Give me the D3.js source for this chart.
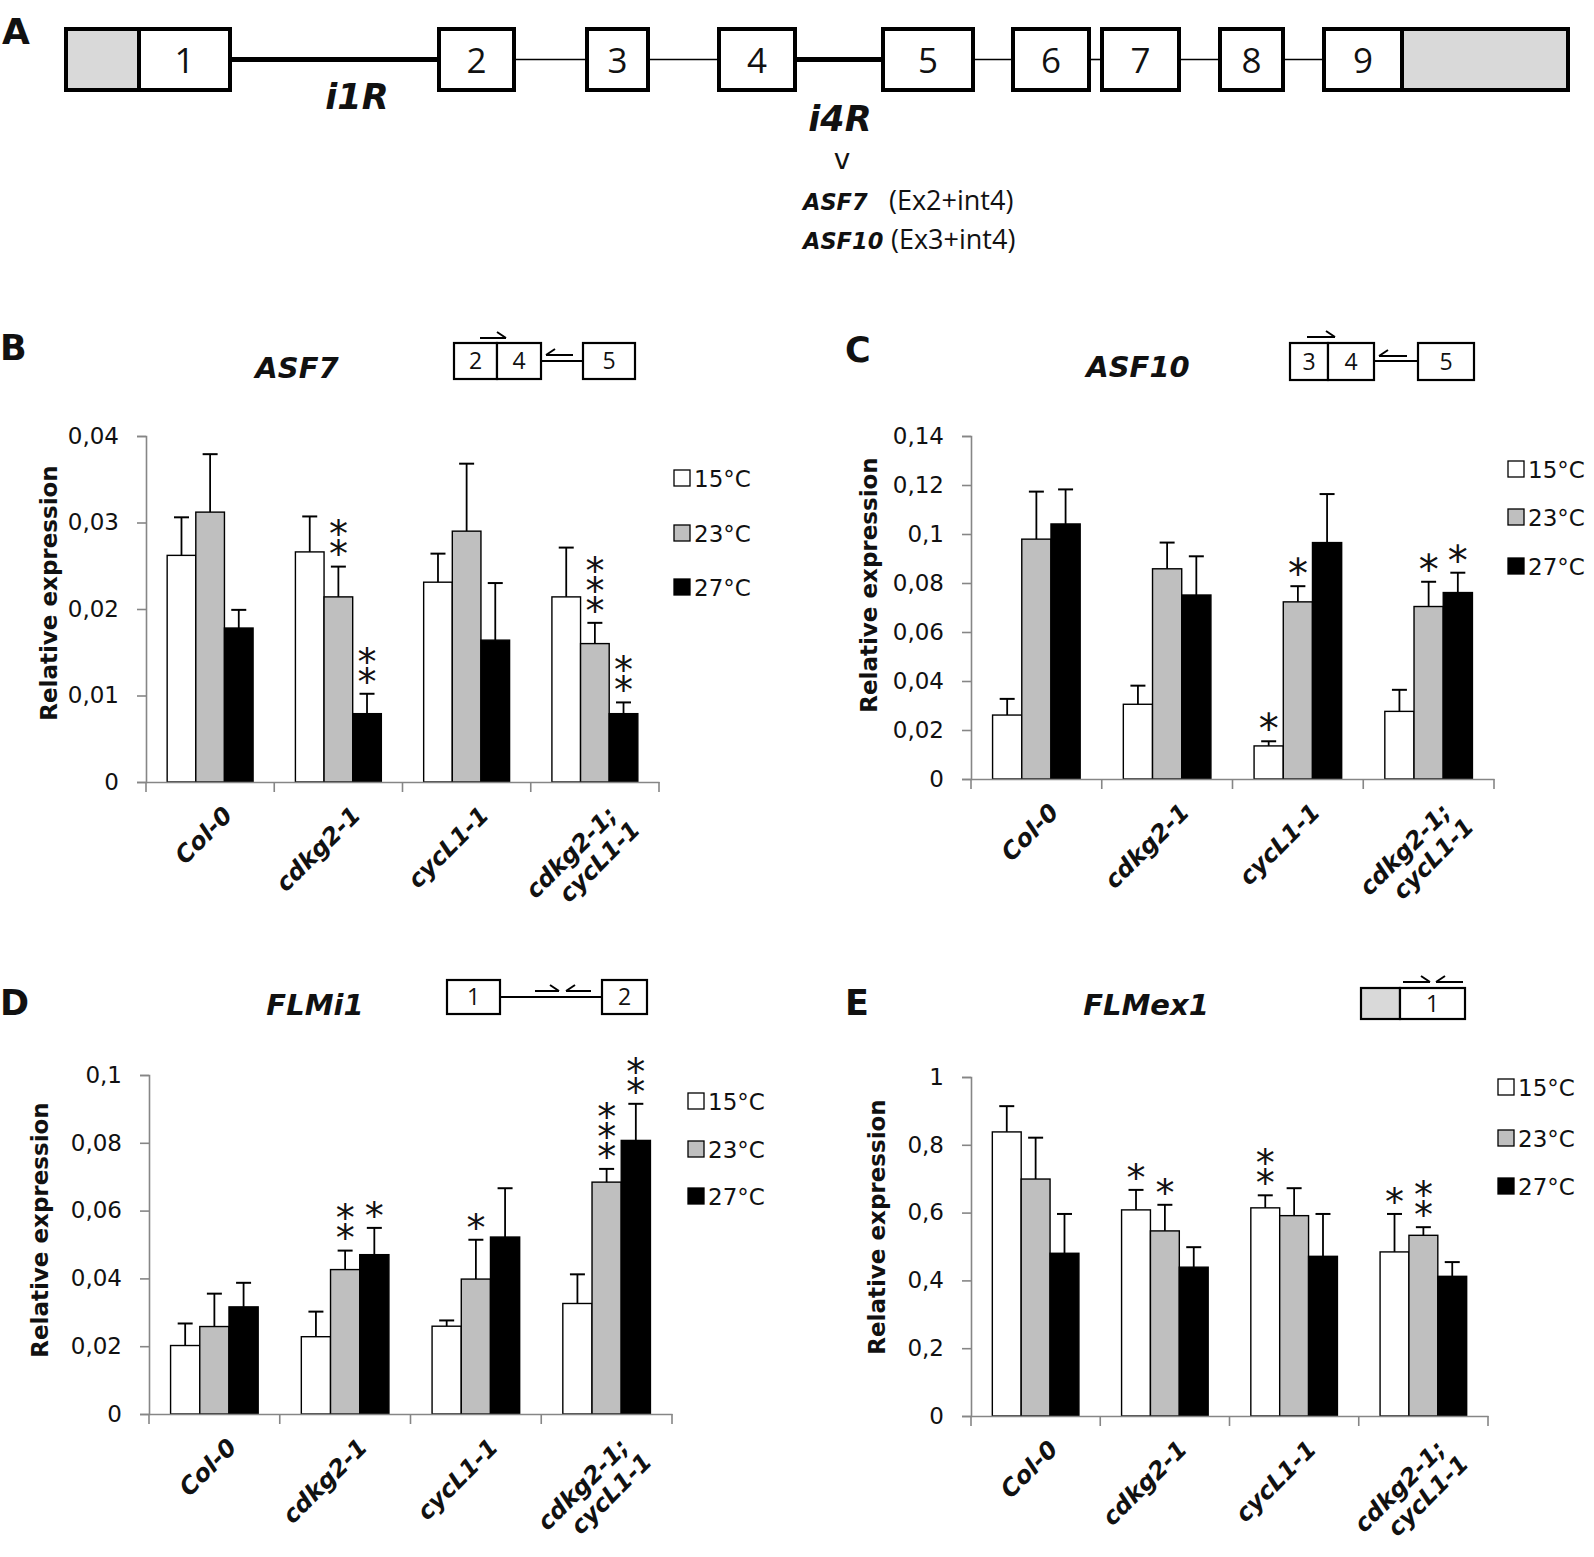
<!DOCTYPE html>
<html>
<head>
<meta charset="utf-8">
<script src="https://cdn.jsdelivr.net/npm/d3@7"></script>
<style>
  html, body { margin: 0; padding: 0; background: #fff; }
  svg { display: block; }
  text { font-family: "DejaVu Sans", sans-serif; fill: #111; }
</style>
</head>
<body>
<svg id="fig" width="1594" height="1557"></svg>
<script>
// ---------------- DATA ----------------
const genotypes = ["Col-0", "cdkg2-1", "cycL1-1", "cdkg2-1;|cycL1-1"];
const temperatures = ["15°C", "23°C", "27°C"];
const tempColors = ["#ffffff", "#bfbfbf", "#000000"];

// Panel B – ASF7
const asf7Mean = [[0.0262, 0.0312, 0.0178], [0.0266, 0.0214, 0.0079], [0.0231, 0.0290, 0.0164], [0.0214, 0.0160, 0.0079]];
const asf7Sd   = [[0.0044, 0.0067, 0.0021], [0.0041, 0.0035, 0.0023], [0.0033, 0.0078, 0.0066], [0.0057, 0.0024, 0.0013]];
const asf7Stars = [[0, 0, 0], [0, 2, 2], [0, 0, 0], [0, 3, 2]];
const asf7Ticks = [0, 0.01, 0.02, 0.03, 0.04];

// Panel C – ASF10
const asf10Mean = [[0.0261, 0.0979, 0.1041], [0.0305, 0.0858, 0.0751], [0.0135, 0.0723, 0.0965], [0.0276, 0.0704, 0.0761]];
const asf10Sd   = [[0.0066, 0.0194, 0.0141], [0.0076, 0.0107, 0.0158], [0.0019, 0.0064, 0.0198], [0.0088, 0.0101, 0.0081]];
const asf10Stars = [[0, 0, 0], [0, 0, 0], [1, 1, 0], [0, 1, 1]];
const asf10Ticks = [0, 0.02, 0.04, 0.06, 0.08, 0.1, 0.12, 0.14];

// Panel D – FLMi1
const flmi1Mean = [[0.0202, 0.0258, 0.0316], [0.0228, 0.0426, 0.0470], [0.0259, 0.0398, 0.0522], [0.0326, 0.0684, 0.0807]];
const flmi1Sd   = [[0.0065, 0.0097, 0.0071], [0.0074, 0.0056, 0.0079], [0.0017, 0.0116, 0.0144], [0.0086, 0.0039, 0.0108]];
const flmi1Stars = [[0, 0, 0], [0, 2, 1], [0, 1, 0], [0, 3, 2]];
const flmi1Ticks = [0, 0.02, 0.04, 0.06, 0.08, 0.1];

// Panel E – FLMex1
const flmex1Mean = [[0.838, 0.699, 0.480], [0.608, 0.546, 0.439], [0.614, 0.591, 0.471], [0.484, 0.533, 0.412]];
const flmex1Sd   = [[0.076, 0.122, 0.116], [0.059, 0.077, 0.059], [0.037, 0.081, 0.125], [0.112, 0.024, 0.042]];
const flmex1Stars = [[0, 0, 0], [1, 1, 0], [2, 0, 0], [1, 2, 0]];
const flmex1Ticks = [0, 0.2, 0.4, 0.6, 0.8, 1];

// Panel A – FLM gene model (schematic units)
const utr5 = [0, 73];
const exons = [[73, 164], [373, 448], [521, 582], [653, 729], [817, 907], [947, 1023], [1036, 1113], [1154, 1217], [1258, 1336]];
const utr3 = [1336, 1502];
const thickIntrons = [0, 3]; // i1R and i4R (retained introns)
const intronLabels = ["i1R", "i4R"];

// ---------------- DRAWING ----------------
const svg = d3.select("#fig");
const fmt = v => d3.format("~g")(v).replace(".", ",");
const BI = sel => sel.attr("font-weight", 700).attr("font-style", "italic");

// ---- Panel A ----
(function panelA() {
  const g = svg.append("g");
  const xs = d3.scaleLinear().domain([0, 1502]).range([66, 1568]);
  const y0 = 29, y1 = 90, ym = (y0 + y1) / 2;
  g.append("text").attr("x", 2).attr("y", 44).attr("font-size", 36).attr("font-weight", 700).text("A");
  for (let i = 0; i < exons.length - 1; i++) {
    g.append("line").attr("x1", xs(exons[i][1])).attr("x2", xs(exons[i + 1][0]))
      .attr("y1", ym).attr("y2", ym).attr("stroke", "#000")
      .attr("stroke-width", thickIntrons.includes(i) ? 5 : 1.6);
  }
  [utr5, utr3].forEach(u => g.append("rect").attr("x", xs(u[0])).attr("y", y0)
    .attr("width", xs(u[1]) - xs(u[0])).attr("height", y1 - y0)
    .attr("fill", "#d9d9d9").attr("stroke", "#000").attr("stroke-width", 4));
  exons.forEach((e, i) => {
    g.append("rect").attr("x", xs(e[0])).attr("y", y0).attr("width", xs(e[1]) - xs(e[0]))
      .attr("height", y1 - y0).attr("fill", "#fff").attr("stroke", "#000").attr("stroke-width", 4);
    g.append("text").attr("x", (xs(e[0]) + xs(e[1])) / 2).attr("y", ym + 13)
      .attr("text-anchor", "middle").attr("font-size", 35)
      .style("font-family", "'Open Sans', sans-serif").text(i + 1);
  });
  const labPos = [[357, 109], [840, 131]];
  intronLabels.forEach((l, k) => {
    BI(g.append("text").attr("x", labPos[k][0]).attr("y", labPos[k][1])
      .attr("text-anchor", "middle").attr("font-size", 35)).text(l);
  });
  g.append("text").attr("x", 842).attr("y", 169).attr("text-anchor", "middle").attr("font-size", 28).text("v");
  const rows = [["ASF7", "(Ex2+int4)", 210, 889], ["ASF10", "(Ex3+int4)", 249, 891]];
  rows.forEach(r => {
    BI(g.append("text").attr("x", 803).attr("y", r[2]).attr("font-size", 22.5)).text(r[0]);
    g.append("text").attr("x", r[3]).attr("y", r[2])
      .style("font-family", "'Open Sans', sans-serif").attr("font-size", 27).text(r[1]);
  });
})();

// ---- helpers: mini primer diagrams ----
function harpoon(g, x1, x2, y, dir) {
  const tip = dir > 0 ? x2 : x1;
  g.append("path").attr("d", `M${x1},${y}L${x2},${y}M${tip},${y}L${tip - dir * 9},${y - 6}`)
    .attr("stroke", "#000").attr("stroke-width", 2).attr("fill", "none");
}
function box(g, x, y, w, h, label, fill) {
  g.append("rect").attr("x", x).attr("y", y).attr("width", w).attr("height", h)
    .attr("fill", fill || "#fff").attr("stroke", "#000").attr("stroke-width", 2.2);
  if (label) g.append("text").attr("x", x + w / 2).attr("y", y + h / 2 + 8).attr("text-anchor", "middle")
    .style("font-family", "'Open Sans', sans-serif").attr("font-size", 23).text(label);
}
function hline(g, x1, x2, y) {
  g.append("line").attr("x1", x1).attr("x2", x2).attr("y1", y).attr("y2", y)
    .attr("stroke", "#000").attr("stroke-width", 2);
}

// ---- Bar panel ----
function barPanel(cfg) {
  const g = svg.append("g");
  const x = d3.scaleBand().domain(genotypes).range([cfg.x0, cfg.x1]);
  const inner = d3.scaleBand().domain(temperatures)
    .range([x.bandwidth() * 0.165, x.bandwidth() * 0.835]);
  const y = d3.scaleLinear().domain([0, cfg.max]).range([cfg.yZero, cfg.yTop]);
  const axisCol = "#868686";

  g.append("text").attr("x", cfg.letter[0]).attr("y", cfg.letter[1]).attr("font-size", 35)
    .attr("font-weight", 700).text(cfg.id);
  BI(g.append("text").attr("x", cfg.title[0]).attr("y", cfg.title[1]).attr("text-anchor", "middle")
    .attr("font-size", 29)).text(cfg.name);

  // y axis
  const ya = d3.axisLeft(y).tickValues(cfg.ticks).tickFormat(fmt).tickSize(9).tickPadding(18);
  const yg = g.append("g").attr("transform", `translate(${cfg.x0},0)`).call(ya);
  yg.select(".domain").attr("stroke", axisCol).attr("stroke-width", 1.6);
  yg.selectAll(".tick line").attr("stroke", axisCol).attr("stroke-width", 1.6);
  yg.selectAll(".tick text").attr("font-size", 23).style("font-family", "'DejaVu Sans', sans-serif")
    .attr("fill", "#111");

  // bars, error bars, significance stars
  genotypes.forEach((gt, gi) => {
    temperatures.forEach((t, ti) => {
      const v = cfg.mean[gi][ti], sd = cfg.sd[gi][ti];
      const bx = x(gt) + inner(t), bw = inner.bandwidth();
      const cx = bx + bw / 2;
      const top = y(v + sd);
      g.append("line").attr("x1", cx).attr("x2", cx).attr("y1", y(v)).attr("y2", top)
        .attr("stroke", "#000").attr("stroke-width", 1.8);
      g.append("line").attr("x1", cx - 7.5).attr("x2", cx + 7.5).attr("y1", top).attr("y2", top)
        .attr("stroke", "#000").attr("stroke-width", 2);
      g.append("rect").attr("x", bx).attr("y", y(v)).attr("width", bw).attr("height", y(0) - y(v))
        .attr("fill", tempColors[ti]).attr("stroke", "#000").attr("stroke-width", 1.4);
      const n = cfg.stars[gi][ti];
      if (n > 0) {
        // stars stacked vertically: one text written upwards, each glyph turned back upright
        const fs = cfg.starSize;
        g.append("text").attr("font-size", fs)
          .attr("transform", `translate(${cx},${top - 19 + 0.52 * fs}) rotate(-90)`)
          .attr("rotate", 90).attr("dy", -0.25 * fs).attr("letter-spacing", 1)
          .text("*".repeat(n));
      }
    });
  });

  // x axis
  const xg = g.append("g").attr("transform", `translate(0,${cfg.yZero})`)
    .call(d3.axisBottom(x).tickValues([]).tickSizeOuter(0));
  xg.select(".domain").attr("stroke", axisCol).attr("stroke-width", 1.6);
  genotypes.map(d => x(d)).concat([cfg.x1]).forEach(b =>
    g.append("line").attr("x1", b).attr("x2", b).attr("y1", cfg.yZero).attr("y2", cfg.yZero + 10)
      .attr("stroke", axisCol).attr("stroke-width", 1.6));

  // category labels rotated -45
  genotypes.forEach(gt => {
    const lines = gt.split("|");
    const cx = x(gt) + x.bandwidth() / 2;
    const t = BI(g.append("text").attr("text-anchor", "end")
      .attr("transform", `translate(${cx + 11},${cfg.yZero + 22}) rotate(-45)`)
      .attr("font-size", 24));
    lines.forEach((ln, i) => {
      t.append("tspan").attr("x", i === 0 ? 0 : 6).attr("dy", i === 0 ? "0.75em" : "1.1em").text(ln);
    });
  });

  // y label
  g.append("text").attr("transform", `translate(${cfg.ylabel[0]},${cfg.ylabel[1]}) rotate(-90)`)
    .attr("text-anchor", "middle").attr("font-size", 23).attr("font-weight", 700)
    .text("Relative expression");

  // legend
  temperatures.forEach((t, ti) => {
    const ly = cfg.legend[1 + ti];
    g.append("rect").attr("x", cfg.legend[0]).attr("y", ly - 8).attr("width", 16).attr("height", 16)
      .attr("fill", tempColors[ti]).attr("stroke", "#000").attr("stroke-width", 1.3);
    g.append("text").attr("x", cfg.legend[0] + 20).attr("y", ly + 8.5).attr("font-size", 23).text(t);
  });
  return g;
}

// Panel B
const gB = barPanel({ id: "B", name: "ASF7", letter: [0, 360], title: [297, 378],
  x0: 146, x1: 659, yTop: 436, yZero: 782, max: 0.04, ticks: asf7Ticks,
  mean: asf7Mean, sd: asf7Sd, stars: asf7Stars, starSize: 38,
  legend: [674, 478, 533, 587], ylabel: [57, 593] });
box(gB, 454, 343, 43, 36, "2"); box(gB, 497, 343, 44, 36, "4");
hline(gB, 541, 583, 361);
box(gB, 583, 343, 52, 36, "5");
harpoon(gB, 480, 506, 338, 1); harpoon(gB, 546, 573, 355, -1);

// Panel C
const gC = barPanel({ id: "C", name: "ASF10", letter: [845, 362], title: [1138, 377],
  x0: 971, x1: 1494, yTop: 436, yZero: 779, max: 0.14, ticks: asf10Ticks,
  mean: asf10Mean, sd: asf10Sd, stars: asf10Stars, starSize: 40,
  legend: [1508, 469, 517, 566], ylabel: [877, 585] });
box(gC, 1290, 343, 38, 37, "3"); box(gC, 1328, 343, 46, 37, "4");
hline(gC, 1374, 1418, 361);
box(gC, 1418, 343, 56, 37, "5");
harpoon(gC, 1307, 1335, 337, 1); harpoon(gC, 1379, 1407, 356, -1);

// Panel D
const gD = barPanel({ id: "D", name: "FLMi1", letter: [0, 1015], title: [315, 1015],
  x0: 149, x1: 672, yTop: 1075, yZero: 1414, max: 0.1, ticks: flmi1Ticks,
  mean: flmi1Mean, sd: flmi1Sd, stars: flmi1Stars, starSize: 38,
  legend: [688, 1101, 1149, 1196], ylabel: [48, 1230] });
box(gD, 447, 980, 53, 34, "1");
hline(gD, 500, 602, 997);
box(gD, 602, 980, 45, 34, "2");
harpoon(gD, 535, 559, 991, 1); harpoon(gD, 566, 591, 991, -1);

// Panel E
const gE = barPanel({ id: "E", name: "FLMex1", letter: [845, 1015], title: [1146, 1015],
  x0: 971, x1: 1488, yTop: 1077, yZero: 1416, max: 1, ticks: flmex1Ticks,
  mean: flmex1Mean, sd: flmex1Sd, stars: flmex1Stars, starSize: 38,
  legend: [1498, 1087, 1138, 1186], ylabel: [885, 1227] });
box(gE, 1361, 988, 39, 31, null, "#d9d9d9"); box(gE, 1400, 988, 65, 31, "1");
harpoon(gE, 1403, 1430, 982, 1); harpoon(gE, 1436, 1463, 982, -1);
</script>
</body>
</html>
